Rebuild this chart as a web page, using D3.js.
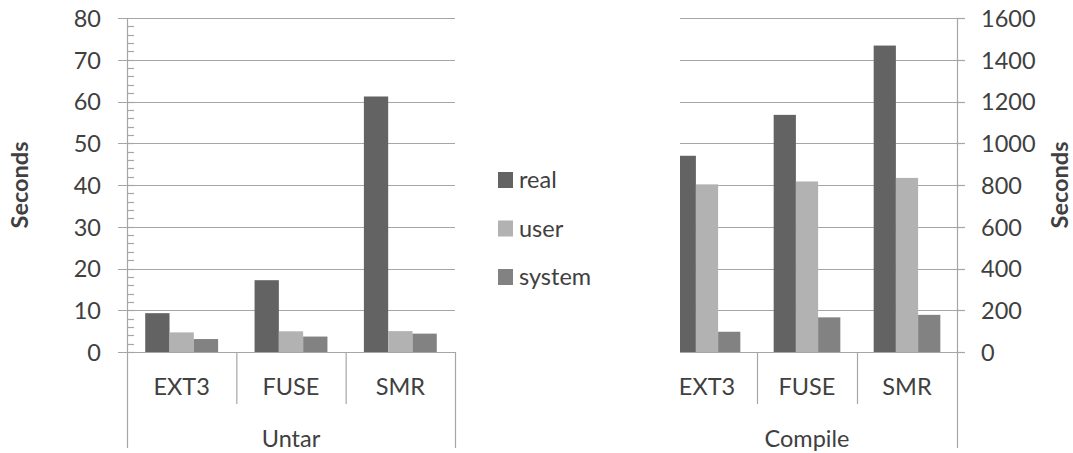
<!DOCTYPE html>
<html><head><meta charset="utf-8">
<script src="https://cdn.jsdelivr.net/npm/d3@7"></script>
<style>body{margin:0;background:#fff}svg{display:block}text{font-family:Lato,"Open Sans",sans-serif;fill:#404040}</style>
</head><body><svg id="c" width="1073" height="453"></svg>
<script>
const categories = ["EXT3","FUSE","SMR"];
const series = ["real","user","system"];
const colors = ["#636363","#b2b2b2","#828282"];
const untarReal = [9.3, 17.2, 61.2];
const untarUser = [4.7, 4.95, 5.0];
const untarSystem = [3.1, 3.7, 4.4];
const compileReal = [940, 1136, 1468];
const compileUser = [803, 817, 834];
const compileSystem = [97, 166, 178];
const untarTicks = [0,10,20,30,40,50,60,70,80];
const compileTicks = [0,200,400,600,800,1000,1200,1400,1600];
const groupLabels = ["Untar","Compile"];

const svg = d3.select("#c");
const grid = "#a6a6a6";
const plotTop = 18, plotBottom = 352;
const fs = 23.5;

function drawChart(cfg){
  const g = svg.append("g");
  const y = d3.scaleLinear().domain([0, cfg.max]).range([plotBottom, plotTop]);
  const x = d3.scaleBand().domain(categories).range([cfg.x0, cfg.x1]);
  const xs = d3.scaleBand().domain(series).range([0, x.bandwidth()]).paddingOuter(0.75).paddingInner(0);
  const body = cfg.clip ? g.append("g").attr("clip-path","url(#"+cfg.clip+")") : g;
  body.selectAll(".gl").data(cfg.ticks).join("line")
    .attr("x1", cfg.gx0).attr("x2", cfg.gx1)
    .attr("y1", d=>Math.round(y(d))+0.5).attr("y2", d=>Math.round(y(d))+0.5)
    .attr("stroke", grid).attr("stroke-width",1.2);
  const vals = cfg.values;
  series.forEach((s,si)=>{
    body.selectAll(".b"+si).data(categories).join("rect")
      .attr("x", c=>x(c)+xs(s)).attr("width", xs.bandwidth())
      .attr("y", (c,ci)=>y(vals[si][ci])).attr("height",(c,ci)=>plotBottom-y(vals[si][ci]))
      .attr("fill", colors[si]);
  });
  const axis = (cfg.side==="left"? d3.axisLeft(y) : d3.axisRight(y)).tickValues(cfg.ticks)
    .tickFormat(d3.format("d")).tickSize(0).tickPadding(cfg.pad);
  const ag = g.append("g").attr("transform",`translate(${cfg.ax},0)`).call(axis);
  ag.select(".domain").remove();
  ag.selectAll("text").attr("font-size",fs).style("fill","#404040").attr("font-family","Lato").attr("dy","0.36em");
  g.append("line").attr("x1",cfg.ax+0.5).attr("x2",cfg.ax+0.5).attr("y1",plotTop).attr("y2",448).attr("stroke",grid).attr("stroke-width",1.2);
  if (cfg.side!=="left"){
    g.selectAll(".mt").data(cfg.ticks).join("line")
      .attr("x1",cfg.ax).attr("x2",cfg.ax+8)
      .attr("y1", d=>Math.round(y(d))+0.5).attr("y2", d=>Math.round(y(d))+0.5)
      .attr("stroke",grid).attr("stroke-width",1.2);
  }
  if (cfg.minor){
    const minor = d3.range(0, cfg.max, cfg.minor);
    g.selectAll(".mn").data(minor).join("line")
      .attr("x1",cfg.ax).attr("x2",cfg.ax+7)
      .attr("y1", d=>Math.round(y(d))+0.5).attr("y2", d=>Math.round(y(d))+0.5)
      .attr("stroke",grid).attr("stroke-width",1.2);
  }
  categories.forEach((c,i)=>{
    if (i>0) g.append("line").attr("x1",x(c)+0.5).attr("x2",x(c)+0.5).attr("y1",plotBottom).attr("y2",404).attr("stroke",grid).attr("stroke-width",1.2);
  });
  if (cfg.side==="left") g.append("line").attr("x1",cfg.x1+0.5).attr("x2",cfg.x1+0.5).attr("y1",plotBottom).attr("y2",448).attr("stroke",grid).attr("stroke-width",1.2);
  g.selectAll(".cl").data(categories).join("text")
    .attr("x", c=>x(c)+x.bandwidth()/2).attr("y",387).attr("dy","0.36em")
    .attr("text-anchor","middle").attr("font-size",fs).text(c=>c);
  g.append("text").attr("x",(cfg.x0+cfg.x1)/2).attr("y",439).attr("dy","0.36em")
    .attr("text-anchor","middle").attr("font-size",fs).text(cfg.group);
  g.append("text").attr("transform",`translate(${cfg.lx},185) rotate(-90)`).attr("dy","0.36em")
    .attr("text-anchor","middle").attr("font-size",23.5).attr("font-weight","bold").text("Seconds");
}

svg.append("defs").append("clipPath").attr("id","rc").append("rect").attr("x",680).attr("y",0).attr("width",400).attr("height",453);

drawChart({x0:127,x1:455,gx0:118,gx1:455,ax:127,side:"left",pad:26,max:80,ticks:untarTicks,minor:2,
  values:[untarReal,untarUser,untarSystem],group:groupLabels[0],lx:20});
drawChart({x0:657,x1:957,gx0:657,gx1:957,ax:957,side:"right",pad:24,max:1600,ticks:compileTicks,clip:"rc",
  values:[compileReal,compileUser,compileSystem],group:groupLabels[1],lx:1060});

const lg = svg.append("g");
series.forEach((s,i)=>{
  const yy = 180 + i*48.5;
  lg.append("rect").attr("x",498).attr("y",yy-8).attr("width",15).attr("height",16).attr("fill",colors[i]);
  lg.append("text").attr("x",519).attr("y",yy).attr("dy","0.36em").attr("font-size",fs).text(s);
});
</script></body></html>
